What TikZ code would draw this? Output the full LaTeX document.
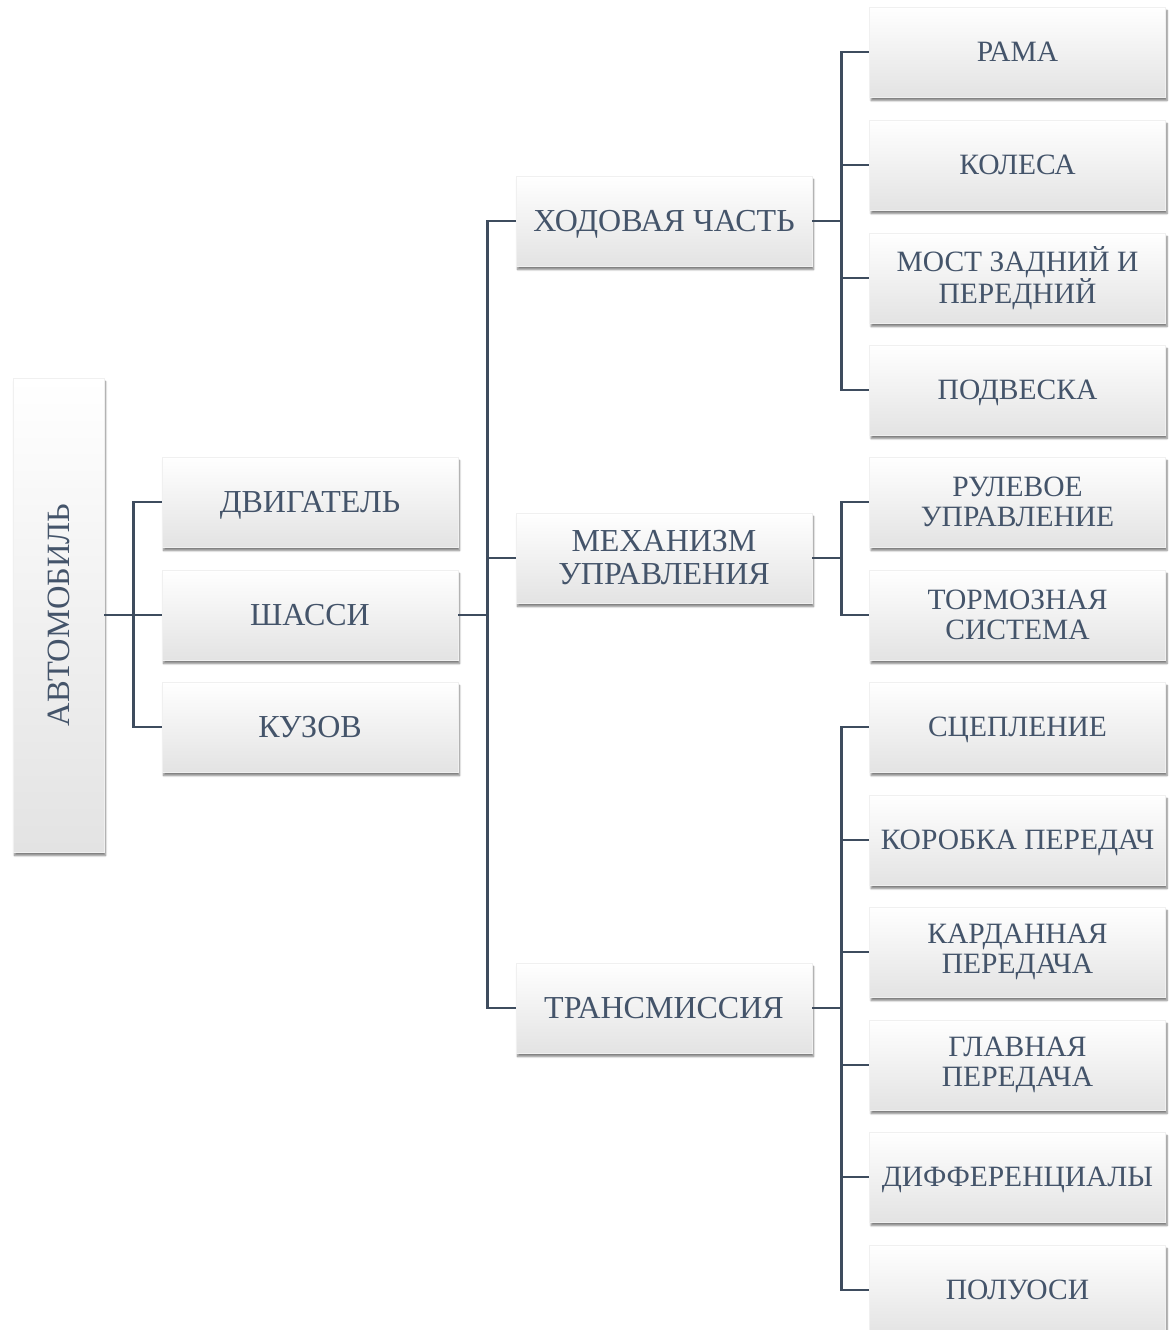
\documentclass[tikz,border=0pt]{standalone}
\usepackage{fontspec}
\setmainfont{Liberation Serif}
\usetikzlibrary{shadows,shadows.blur}
\definecolor{txt}{HTML}{44546A}
\definecolor{ln}{HTML}{3E4C5E}
\tikzset{
  box/.style={minimum width=296pt, minimum height=90pt, inner sep=1pt,
    top color=white, middle color=white, bottom color=black!11,
    draw=black!6, line width=0.5pt,
    blur shadow={shadow xshift=1.5pt, shadow yshift=-3.5pt, shadow blur steps=6, shadow opacity=50},
    text=txt, align=center, font=\fontsize{29.5}{30}\selectfont},
  mid/.style={box, font=\fontsize{32}{33}\selectfont},
  one/.style={text height=19.5pt, text depth=0pt},
  onem/.style={text height=21pt, text depth=0pt},
  conn/.style={draw=ln, line width=2.6pt},
}
\begin{document}
\begin{tikzpicture}[x=1pt,y=-1pt]
\useasboundingbox (0,0) rectangle (1174,1330);
% root
\node[box, minimum width=91pt, minimum height=474pt] (auto) at (58.5,615) {};
\node[rotate=90, text=txt, font=\fontsize{32.5}{33}\selectfont, text height=21.5pt, text depth=0pt] (autot) at (auto.center) {АВТОМОБИЛЬ};
% level 1
\node[mid,onem] (dvig) at (310,502) {ДВИГАТЕЛЬ};
\node[mid,onem] (shas) at (310,615) {ШАССИ};
\node[mid,onem] (kuz)  at (310,727) {КУЗОВ};
% level 2
\node[mid,onem] (hod) at (664,221) {ХОДОВАЯ ЧАСТЬ};
\node[mid] (meh) at (664,558) {МЕХАНИЗМ\\УПРАВЛЕНИЯ};
\node[mid,onem] (tr)  at (664,1008) {ТРАНСМИССИЯ};
% level 3
\node[box,one] (rama) at (1017.5,52) {РАМА};
\node[box,one] (kol)  at (1017.5,165) {КОЛЕСА};
\node[box] (most) at (1017.5,278) {МОСТ ЗАДНИЙ И\\ПЕРЕДНИЙ};
\node[box,one] (podv) at (1017.5,390) {ПОДВЕСКА};
\node[box] (rul)  at (1017.5,502) {РУЛЕВОЕ\\УПРАВЛЕНИЕ};
\node[box] (torm) at (1017.5,615) {ТОРМОЗНАЯ\\СИСТЕМА};
\node[box,one] (scep) at (1017.5,727) {СЦЕПЛЕНИЕ};
\node[box,one] (kor)  at (1017.5,840) {КОРОБКА ПЕРЕДАЧ};
\node[box] (kard) at (1017.5,952) {КАРДАННАЯ\\ПЕРЕДАЧА};
\node[box] (glav) at (1017.5,1065) {ГЛАВНАЯ\\ПЕРЕДАЧА};
\node[box,one] (dif)  at (1017.5,1177) {ДИФФЕРЕНЦИАЛЫ};
\node[box,one] (pol)  at (1017.5,1290) {ПОЛУОСИ};
% connectors
\foreach \c in {dvig,shas,kuz} \draw[conn] (auto.east) -- ++(29,0) |- (\c.west);
\foreach \c in {hod,meh,tr} \draw[conn] (shas.east) -- ++(29,0) |- (\c.west);
\foreach \c in {rama,kol,most,podv} \draw[conn] (hod.east) -- ++(29,0) |- (\c.west);
\foreach \c in {rul,torm} \draw[conn] (meh.east) -- ++(29,0) |- (\c.west);
\foreach \c in {scep,kor,kard,glav,dif,pol} \draw[conn] (tr.east) -- ++(29,0) |- (\c.west);
\end{tikzpicture}
\end{document}
